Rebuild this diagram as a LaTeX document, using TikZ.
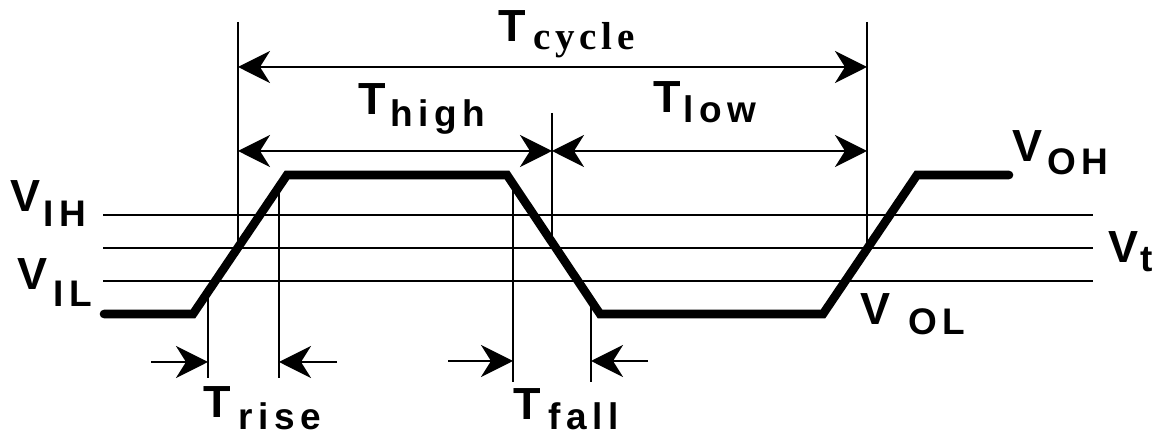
\documentclass[tikz,border=0pt]{standalone}
\usepackage{fontspec}
\setmainfont{Liberation Sans}
\newfontfamily\serifbold{Liberation Serif}
\usetikzlibrary{arrows.meta,calc}
\tikzset{
  level/.style={line width=1.4pt},
  signal/.style={line width=4.3pt, line cap=round},
  marker/.style={line width=1.4pt},
  dim/.style={line width=1.4pt, {Stealth[length=16pt,width=16pt,inset=5pt]}-{Stealth[length=16pt,width=16pt,inset=5pt]}},
  into/.style={line width=1.4pt, -{Stealth[length=16pt,width=16pt,inset=5pt]}},
  sigtext/.style={font=\fontsize{22.5}{22.5}\selectfont\bfseries, inner sep=0pt, anchor=base west},
  subtext/.style={font=\fontsize{18.5}{18.5}\selectfont\bfseries\addfontfeature{LetterSpace=15}, inner sep=0pt, anchor=base west}
}

\begin{document}
\begin{tikzpicture}[x=0.5pt,y=-0.5pt]
  \useasboundingbox (0,0) rectangle (1162,437);
  \foreach \y/\n in {215/vih,248/vt,281/vil}{
    \coordinate (\n-a) at (103,\y);
    \coordinate (\n-b) at (1093,\y);
    \draw[level] (\n-a) -- (\n-b);
  }
  \coordinate (w0) at (104,314);
  \coordinate (w1) at (193,314);
  \coordinate (w2) at (287,175);
  \coordinate (w3) at (507,175);
  \coordinate (w4) at (600,314);
  \coordinate (w5) at (823,314);
  \coordinate (w6) at (917,175);
  \coordinate (w7) at (1009,175);
  % crossings
  \coordinate (c1) at ($(w1)!{45/94}!(w2)$);
  \coordinate (c2) at ($(w5)!{44/94}!(w6)$);
  \coordinate (c3) at ($(w3)!{45/93}!(w4)$);
  \coordinate (r1) at ($(w1)!{15/94}!(w2)$);
  \coordinate (r2) at ($(w1)!{86/94}!(w2)$);
  \coordinate (f1) at ($(w3)!{6/93}!(w4)$);
  \coordinate (f2) at ($(w3)!{84/93}!(w4)$);
  \coordinate (top) at (0,22);
  \coordinate (mid) at (0,113);
  \coordinate (cy) at (0,67);
  \coordinate (hy) at (0,151);
  \coordinate (rb) at (0,378);
  \coordinate (fb) at (0,382);
  \draw[marker] (c1 |- top) -- (c1);
  \draw[marker] (c2 |- top) -- (c2);
  \draw[marker] (c3 |- mid) -- (c3);
  \draw[marker] (r1) -- (r1 |- rb);
  \draw[marker] (r2) -- (r2 |- rb);
  \draw[marker] (f1) -- (f1 |- fb);
  \draw[marker] (f2) -- (f2 |- fb);
  \draw[signal] (w0) -- (w1) -- (w2) -- (w3) -- (w4) -- (w5) -- (w6) -- (w7);
  \draw[dim] (c1 |- cy) -- (c2 |- cy);
  \draw[dim] (c1 |- hy) -- (c3 |- hy);
  \draw[dim] (c3 |- hy) -- (c2 |- hy);
  \coordinate (ra) at (151,362);
  \coordinate (rc) at (337,362);
  \coordinate (fa) at (448,361);
  \coordinate (fc) at (648,361);
  \draw[into] (ra) -- (ra -| r1);
  \draw[into] (rc) -- (rc -| r2);
  \draw[into] (fa) -- (fa -| f1);
  \draw[into] (fc) -- (fc -| f2);
  % labels
  \node[sigtext] (tcyc) at (498,42) {T};
  \node[subtext, font=\fontsize{19.5}{19.5}\selectfont\serifbold\bfseries\addfontfeature{LetterSpace=12}] (tcyc-s) at (533,50) {cycle};
  \node[sigtext] (thigh) at (358,115) {T};
  \node[subtext] (thigh-s) at (390,127) {high};
  \node[sigtext] (tlow) at (653,113) {T};
  \node[subtext] (tlow-s) at (683,123) {low};
  \node[sigtext] (trise) at (203,418) {T};
  \node[subtext] (trise-s) at (238,430) {rise};
  \node[sigtext] (tfall) at (513,420) {T};
  \node[subtext] (tfall-s) at (548,430) {fall};
  \node[sigtext] (vih) at (10,212) {V};
  \node[subtext] (vih-s) at (43,227) {IH};
  \node[sigtext] (vil) at (17,290) {V};
  \node[subtext] (vil-s) at (53,307) {IL};
  \node[sigtext] (voh) at (1012,162) {V};
  \node[subtext] (voh-s) at (1047,175) {OH};
  \node[sigtext] (vt) at (1108,263) {V};
  \node[subtext] (vt-s) at (1140,272) {t};
  \node[sigtext] (vol) at (860,325) {V};
  \node[subtext] (vol-s) at (908,335) {OL};
\end{tikzpicture}
\end{document}
